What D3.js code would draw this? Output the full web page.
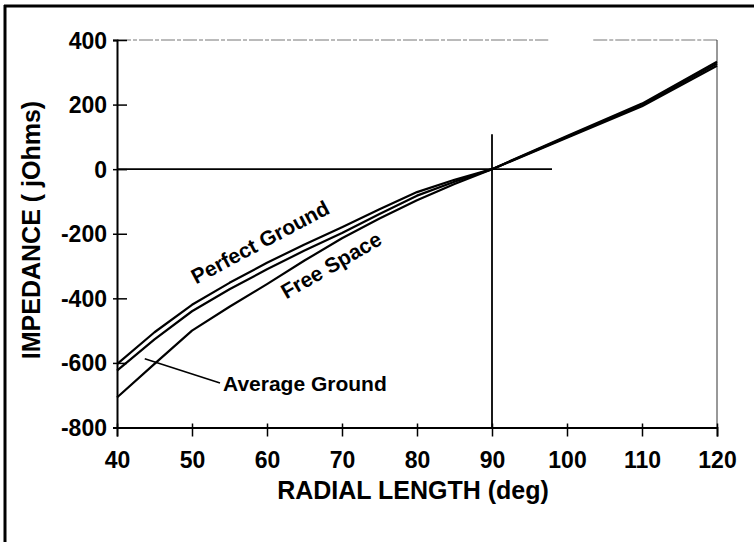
<!DOCTYPE html>
<html>
<head>
<meta charset="utf-8">
<script src="https://cdn.jsdelivr.net/npm/d3@7"></script>
<style>
  html, body { margin: 0; padding: 0; background: #fff; }
  svg { display: block; }
  text { font-family: "Liberation Sans", Arial, Helvetica, sans-serif; font-weight: bold; fill: #000; }
</style>
</head>
<body>
<svg id="chart" width="754" height="542"></svg>
<script>
// Radial length in degrees and reactance (jOhms) for three ground conditions
const lengthDeg      = [40, 45, 50, 55, 60, 65, 70, 75, 80, 85, 90, 100, 110, 120];
const perfectGround  = [-604, -505, -420, -352, -290, -233, -180, -124, -71, -33, 0, 103, 203, 333];
const averageGround  = [-624, -527, -440, -372, -310, -252, -198, -139, -82, -39, 0, 100, 199, 327];
const freeSpace      = [-707, -603, -500, -426, -356, -283, -214, -153, -96, -46, 0, 97, 195, 320];

const xTicks = [40, 50, 60, 70, 80, 90, 100, 110, 120];
const yTicks = [-800, -600, -400, -200, 0, 200, 400];

const svg = d3.select("#chart");
const plain = d => String(d);   // plain hyphen-minus labels

// page frame (left and top rules)
svg.append("line").attr("x1", 5).attr("x2", 5).attr("y1", 5).attr("y2", 542)
  .attr("stroke", "#000").attr("stroke-width", 3);
svg.append("line").attr("x1", 4).attr("x2", 754).attr("y1", 6).attr("y2", 6)
  .attr("stroke", "#000").attr("stroke-width", 3);

const x = d3.scaleLinear().domain([40, 120]).range([117, 717]);
const y = d3.scaleLinear().domain([-800, 400]).range([427.5, 40]);

// plot box: faint top rule and right rule
const topRule = svg.append("g").attr("stroke", "#777").attr("stroke-width", 1)
  .attr("stroke-dasharray", "14,2,4,2");
topRule.append("line").attr("x1", x(40)).attr("x2", x(97.5)).attr("y1", y(400)).attr("y2", y(400));
topRule.append("line").attr("x1", x(103.5)).attr("x2", x(120)).attr("y1", y(400)).attr("y2", y(400));
svg.append("line").attr("x1", x(120)).attr("x2", x(120)).attr("y1", y(400)).attr("y2", y(-800))
  .attr("stroke", "#333").attr("stroke-width", 1);

// reference cross at the 90 degree zero crossing
svg.append("line").attr("x1", x(40)).attr("x2", x(98)).attr("y1", y(0)).attr("y2", y(0))
  .attr("stroke", "#000").attr("stroke-width", 1.6);
svg.append("line").attr("x1", x(90)).attr("x2", x(90)).attr("y1", y(108)).attr("y2", y(-800))
  .attr("stroke", "#000").attr("stroke-width", 1.8);

// axes
const yAxis = svg.append("g").attr("transform", `translate(${x(40)},0)`)
  .call(d3.axisLeft(y).tickValues(yTicks).tickSize(4).tickFormat(plain));
yAxis.select(".domain").attr("stroke-width", 2);
yAxis.selectAll(".tick line").attr("x1", -4).attr("x2", 10).attr("stroke-width", 1.5);
yAxis.selectAll(".tick text").attr("x", -10).attr("dy", "0.35em")
  .style("font-size", "23px").style("font-family", "'Liberation Sans', Arial, sans-serif")
  .style("font-weight", "bold");

const xAxis = svg.append("g").attr("transform", `translate(0,${y(-800)})`)
  .call(d3.axisBottom(x).tickValues(xTicks).tickSize(9).tickFormat(plain));
xAxis.select(".domain").attr("stroke-width", 1.8);
xAxis.selectAll(".tick line").attr("y1", -4).attr("y2", 9).attr("stroke-width", 1.5);
xAxis.selectAll(".tick text").attr("y", 40).attr("dy", 0)
  .style("font-size", "23px").style("font-family", "'Liberation Sans', Arial, sans-serif")
  .style("font-weight", "bold");

// axis titles
svg.append("text").attr("x", 413).attr("y", 499).attr("text-anchor", "middle")
  .style("font-size", "25px").text("RADIAL LENGTH (deg)");
svg.append("text").attr("transform", "translate(40,230) rotate(-90)").attr("text-anchor", "middle")
  .style("font-size", "25px").text("IMPEDANCE ( jOhms)");

// curves
const line = d3.line().x(d => x(d[0])).y(d => y(d[1]));
[perfectGround, averageGround, freeSpace].forEach(vals => {
  svg.append("path")
    .datum(lengthDeg.map((d, i) => [d, vals[i]]))
    .attr("fill", "none").attr("stroke", "#000").attr("stroke-width", 2.2)
    .attr("stroke-linejoin", "round").attr("d", line);
});

// curve labels
svg.append("text").attr("transform", "translate(260,242) rotate(-28)")
  .attr("text-anchor", "middle").attr("dominant-baseline", "central")
  .style("font-size", "21px").text("Perfect Ground");
svg.append("text").attr("transform", "translate(331,265) rotate(-30)")
  .attr("text-anchor", "middle").attr("dominant-baseline", "central")
  .style("font-size", "21px").text("Free Space");

// leader for the average ground curve
svg.append("line").attr("x1", x(43.7)).attr("y1", y(-587)).attr("x2", 220).attr("y2", 383)
  .attr("stroke", "#000").attr("stroke-width", 1.6);
svg.append("text").attr("x", 223).attr("y", 391).style("font-size", "21px").text("Average Ground");
</script>
</body>
</html>
